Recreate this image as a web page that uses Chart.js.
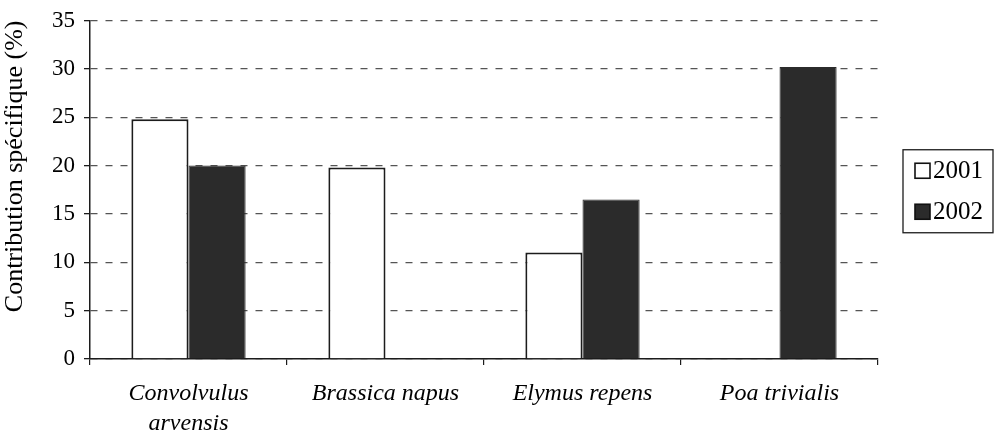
<!DOCTYPE html>
<html>
<head>
<meta charset="utf-8">
<script src="https://cdn.jsdelivr.net/npm/chart.js@4"></script>
<style>
    html, body { margin: 0; padding: 0; background: #fff; }
    #wrap { width: 996px; height: 444px; }
</style>
</head>
<body>
<div id="wrap"><canvas id="chart"></canvas></div>
<script>
// Species and their specific contribution per year
const species = [['Convolvulus', 'arvensis'], 'Brassica napus', 'Elymus repens', 'Poa trivialis'];
const years = ['2001', '2002'];
const values2001 = [24.8, 19.8, 11.0, null];
const values2002 = [20.0, null, 16.5, 30.2];
const yTicks = { min: 0, max: 35, step: 5 };

const SERIF = "'Liberation Serif', 'Times New Roman', serif";
const INK = '#1c1c1c';
const DARK = '#2b2b2b';

// Boxed legend to the right of the plot, vertically centred on it
const boxedLegend = {
    id: 'boxedLegend',
    afterDraw(chart) {
        const { ctx, chartArea } = chart;
        const left = chartArea.right + 25;
        const right = chart.width - 3;
        const midY = (chartArea.top + chartArea.bottom) / 2;
        const top = midY - 40, bottom = midY + 43;
        ctx.save();
        ctx.strokeStyle = INK;
        ctx.lineWidth = 1.3;
        ctx.strokeRect(left, top, right - left, bottom - top);

        ctx.font = `25px ${SERIF}`;
        ctx.textBaseline = 'middle';
        chart.data.datasets.forEach((ds, i) => {
            const y = top + 21 + i * 41;
            const bx = left + 12, size = 15;
            ctx.fillStyle = ds.backgroundColor;
            ctx.fillRect(bx, y - size / 2, size, size);
            ctx.strokeStyle = '#111';
            ctx.lineWidth = 1.6;
            ctx.strokeRect(bx, y - size / 2, size, size);
            ctx.fillStyle = '#000';
            ctx.fillText(ds.label, bx + size + 3, y + 1);
        });
        ctx.restore();
    }
};

new Chart(document.getElementById('chart'), {
    type: 'bar',
    data: {
        labels: species,
        datasets: [
            {
                label: years[0],
                data: values2001,
                backgroundColor: '#fff',
                borderColor: INK,
                borderWidth: 2,
                borderSkipped: 'bottom'
            },
            {
                label: years[1],
                data: values2002,
                backgroundColor: DARK,
                borderColor: DARK,
                borderWidth: 1,
                borderSkipped: 'bottom'
            }
        ]
    },
    plugins: [boxedLegend],
    options: {
        responsive: true,
        maintainAspectRatio: false,
        animation: false,
        datasets: {
            bar: { categoryPercentage: 0.58, barPercentage: 1.0 }
        },
        layout: { padding: { top: 2, right: 118, left: 0, bottom: 0 } },
        plugins: {
            tooltip: { enabled: false },
            legend: { display: false }
        },
        scales: {
            x: {
                afterFit: (s) => { s.height = 85; },
                border: { display: true, color: INK, width: 1.5 },
                grid: {
                    offset: true,
                    drawOnChartArea: false,
                    tickLength: 6,
                    color: INK,
                    lineWidth: 1.2
                },
                ticks: {
                    color: '#000',
                    padding: 13,
                    maxRotation: 0,
                    font: { family: SERIF, size: 24, style: 'italic', lineHeight: 1.28 }
                }
            },
            y: {
                min: yTicks.min,
                max: yTicks.max,
                afterFit: (s) => { s.width = 90; },
                border: { display: true, color: INK, width: 1.5, dash: [7, 8] },
                grid: {
                    color: '#555',
                    lineWidth: 1.3,
                    tickLength: 6,
                    tickColor: INK,
                    tickBorderDash: []
                },
                ticks: {
                    stepSize: yTicks.step,
                    color: '#000',
                    padding: 9,
                    font: { family: SERIF, size: 23, lineHeight: 1.0 }
                },
                title: {
                    display: true,
                    text: 'Contribution spécifique (%)',
                    align: 'end',
                    color: '#000',
                    padding: { top: 0, bottom: 2 },
                    font: { family: SERIF, size: 26 }
                }
            }
        }
    }
});
</script>
</body>
</html>
